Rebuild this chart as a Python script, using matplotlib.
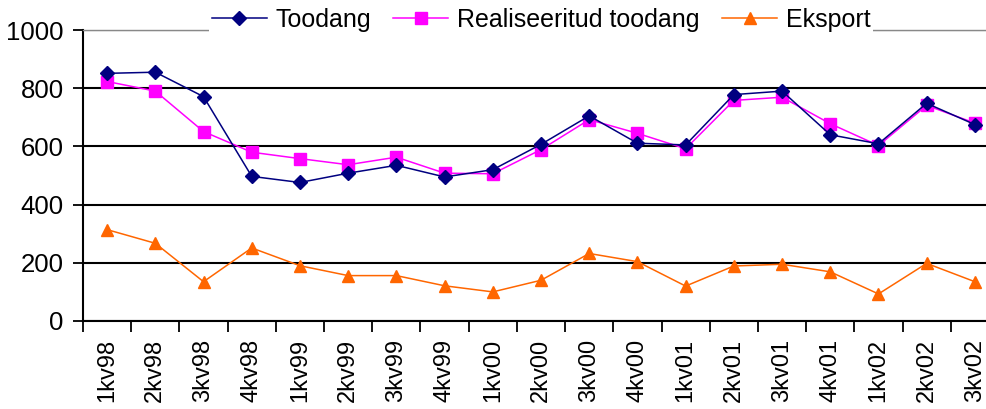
import matplotlib.pyplot as plt
from matplotlib.ticker import MultipleLocator

plt.rcParams['font.family'] = ['Liberation Sans', 'DejaVu Sans']

quarters = ['1kv98', '2kv98', '3kv98', '4kv98', '1kv99', '2kv99', '3kv99', '4kv99',
            '1kv00', '2kv00', '3kv00', '4kv00', '1kv01', '2kv01', '3kv01', '4kv01',
            '1kv02', '2kv02', '3kv02']
toodang = [851, 855, 771, 497, 476, 508, 535, 495, 520, 607, 705, 611, 605, 778, 790, 640, 609, 748, 675]
realiseeritud = [823, 790, 651, 580, 558, 537, 563, 508, 506, 589, 692, 645, 592, 758, 769, 678, 603, 741, 680]
eksport = [314, 267, 135, 251, 190, 156, 156, 121, 100, 140, 232, 204, 120, 189, 195, 169, 93, 198, 135]

fig = plt.figure(figsize=(9.86, 4.09), dpi=100)
ax = fig.add_axes([83 / 986, 88 / 409, 916 / 986, 291 / 409])

x = range(len(quarters))
ax.plot(x, toodang, color='#000080', marker='D', markersize=7.5, lw=1.1, label='Toodang', zorder=4)
ax.plot(x, realiseeritud, color='#FF00FF', marker='s', markersize=8.5, lw=1.1,
        label='Realiseeritud toodang', zorder=3)
ax.plot(x, eksport, color='#FF6600', marker='^', markersize=9, lw=1.1, label='Eksport', zorder=3)

ax.set_xlim(-0.5, len(quarters) - 0.5)
ax.set_ylim(0, 1000)
ax.yaxis.set_major_locator(MultipleLocator(200))
ax.grid(axis='y', color='black', lw=1.5, zorder=1)

ax.set_xticks(list(x))
ax.set_xticklabels(quarters, rotation=90, fontsize=17)
ax.set_xticks([i - 0.5 for i in range(len(quarters) + 1)], minor=True)
ax.tick_params(axis='x', which='major', length=0, pad=13)
ax.tick_params(axis='x', which='minor', length=8, width=1.3, direction='out')
ax.tick_params(axis='y', labelsize=18.5, length=7, width=1.3, pad=7)

for s in ['left', 'bottom']:
    ax.spines[s].set_linewidth(1.5)
ax.spines['right'].set_visible(False)
ax.spines['top'].set_color('#888888')
ax.spines['top'].set_linewidth(1)

leg = ax.legend(loc='center', bbox_to_anchor=(0.5, 1.034), ncol=3, fontsize=18,
                frameon=True, framealpha=1, facecolor='white', edgecolor='none',
                borderpad=0.1, handlelength=2.2, handletextpad=0.35, columnspacing=0.9,
                fancybox=False)
leg.set_zorder(10)

fig.savefig('out.png', dpi=100)
